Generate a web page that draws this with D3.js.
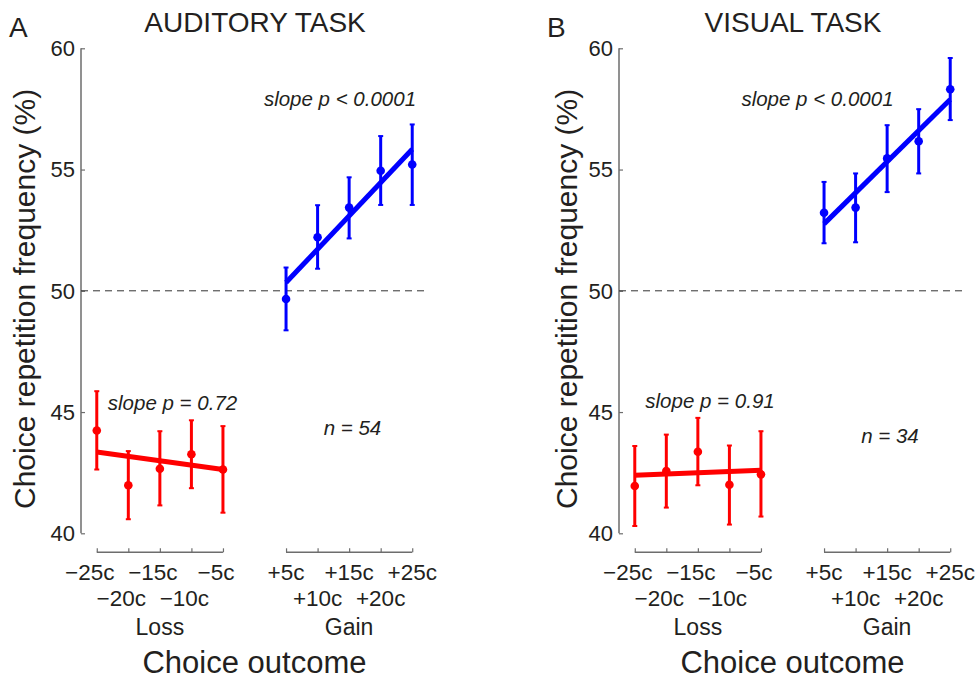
<!DOCTYPE html>
<html>
<head>
<meta charset="utf-8">
<title>Choice repetition</title>
<script src="https://d3js.org/d3.v7.min.js"></script>
<style>
  body { margin: 0; background: #fff; }
  text { font-family: "Liberation Sans", Arial, sans-serif; fill: #231f20; }
</style>
</head>
<body>
<svg width="979" height="679"></svg>
<script>
// tick labels
var lossLabels = ["\u221225c", "\u221220c", "\u221215c", "\u221210c", "\u22125c"];
var gainLabels = ["+5c", "+10c", "+15c", "+20c", "+25c"];
var yTicks = [40, 45, 50, 55, 60];

// auditory task (%)
var audLossMean = [44.24, 41.98, 42.66, 43.26, 42.63];
var audLossLo   = [42.63, 40.58, 41.15, 41.86, 40.85];
var audLossHi   = [45.86, 43.39, 44.21, 44.66, 44.42];
var audLossFit  = [43.35, 42.63];
var audGainMean = [49.66, 52.21, 53.43, 54.95, 55.21];
var audGainLo   = [48.37, 50.91, 52.16, 53.54, 53.54];
var audGainHi   = [50.96, 53.53, 54.68, 56.38, 56.86];
var audGainFit  = [50.34, 55.84];

// visual task (%)
var visLossMean = [41.95, 42.57, 43.36, 42.00, 42.43];
var visLossLo   = [40.30, 41.06, 41.98, 40.36, 40.69];
var visLossHi   = [43.60, 44.07, 44.76, 43.62, 44.21];
var visLossFit  = [42.39, 42.60];
var visGainMean = [53.22, 53.43, 55.46, 56.17, 58.31];
var visGainLo   = [51.96, 52.00, 54.07, 54.84, 57.04];
var visGainHi   = [54.49, 54.84, 56.83, 57.49, 59.60];
var visGainFit  = [52.76, 57.89];

var svg = d3.select("svg");
var axisColor = "#6d6d6d";
var red = "#ff0000", blue = "#0000ff";

var y = d3.scaleLinear().domain([40, 60]).range([533.3, 48.3]);

function panel(o) {
    var x = d3.scaleLinear().domain([-0.5, 10.5]).range([o.left, o.left + 347]);
    var g = svg.append("g");

    // panel letter and title
    g.append("text").attr("x", o.left - 72).attr("y", 37)
        .style("font-size", "28px").text(o.letter);
    g.append("text").attr("x", o.left + 174).attr("y", 32)
        .attr("text-anchor", "middle").style("font-size", "28px").text(o.title);

    // y axis
    var ya = g.append("g").attr("transform", "translate(" + o.left + ",0)")
        .call(d3.axisRight(y).tickValues(yTicks).tickSize(4).tickFormat(""));
    ya.select(".domain").remove();
    ya.selectAll("line").attr("stroke", axisColor).attr("stroke-width", 1.2);
    g.append("line").attr("x1", o.left).attr("x2", o.left)
        .attr("y1", y(40)).attr("y2", y(60))
        .attr("stroke", axisColor).attr("stroke-width", 1.5);
    g.selectAll(".ylab").data(yTicks).enter().append("text")
        .attr("x", o.left - 6).attr("y", function(d) { return y(d); })
        .attr("dy", "0.36em").attr("text-anchor", "end")
        .style("font-size", "22px").text(function(d) { return d; });
    g.append("text")
        .attr("transform", "translate(" + o.ylabX + ",509) rotate(-90)")
        .style("font-size", "30px").text("Choice repetition frequency (%)");

    // dashed chance line
    g.append("line").attr("x1", o.left).attr("x2", x(10.5))
        .attr("y1", y(50)).attr("y2", y(50))
        .attr("stroke", "#333").attr("stroke-width", 1).attr("stroke-dasharray", "7,5");

    // x axes (loss 0-4, gain 6-10)
    var xAxisY = 552.3;
    [[0, lossLabels, "Loss", -7], [6, gainLabels, "Gain", 0]].forEach(function(grp) {
        var idx = d3.range(grp[0], grp[0] + 5);
        var xa = g.append("g").attr("transform", "translate(0," + xAxisY + ")")
            .call(d3.axisTop(x).tickValues(idx).tickSize(4).tickSizeOuter(0).tickFormat(""));
        xa.select(".domain").attr("d", "M" + x(idx[0]) + ",0H" + x(idx[4]))
            .attr("stroke", axisColor).attr("stroke-width", 1.5);
        xa.selectAll("line").attr("stroke", axisColor).attr("stroke-width", 1.2);
        idx.forEach(function(i, k) {
            g.append("text").attr("x", x(i) + grp[3])
                .attr("y", k % 2 === 0 ? 580 : 606)
                .attr("text-anchor", "middle").style("font-size", "22.5px")
                .text(grp[1][k]);
        });
        g.append("text").attr("x", x(grp[0] + 2)).attr("y", 635)
            .attr("text-anchor", "middle").style("font-size", "23px").text(grp[2]);
    });
    g.append("text").attr("x", x(5)).attr("y", 673)
        .attr("text-anchor", "middle").style("font-size", "31px").text("Choice outcome");

    // series
    o.series.forEach(function(s) {
        var idx = d3.range(s.start, s.start + 5);
        g.selectAll(null).data(idx).enter().append("line")
            .attr("x1", function(i) { return x(i); }).attr("x2", function(i) { return x(i); })
            .attr("y1", function(i, k) { return y(s.lo[k]); })
            .attr("y2", function(i, k) { return y(s.hi[k]); })
            .attr("stroke", s.color).attr("stroke-width", 3);
        [s.lo, s.hi].forEach(function(arr) {
            g.selectAll(null).data(idx).enter().append("line")
                .attr("x1", function(i) { return x(i) - 2.5; })
                .attr("x2", function(i) { return x(i) + 2.5; })
                .attr("y1", function(i, k) { return y(arr[k]); })
                .attr("y2", function(i, k) { return y(arr[k]); })
                .attr("stroke", s.color).attr("stroke-width", 2);
        });
        g.append("line")
            .attr("x1", x(idx[0])).attr("x2", x(idx[4]))
            .attr("y1", y(s.fit[0])).attr("y2", y(s.fit[1]))
            .attr("stroke", s.color).attr("stroke-width", 5);
        g.selectAll(null).data(idx).enter().append("circle")
            .attr("cx", function(i) { return x(i); })
            .attr("cy", function(i, k) { return y(s.mean[k]); })
            .attr("r", 4.3).attr("fill", s.color);
    });

    // annotations
    o.notes.forEach(function(n) {
        g.append("text").attr("x", n[0]).attr("y", n[1])
            .attr("text-anchor", "middle").style("font-size", "20.5px")
            .style("font-style", "italic").text(n[2]);
    });
}

panel({
    left: 81, letter: "A", title: "AUDITORY TASK", ylabX: 35,
    series: [
        { start: 0, color: red, mean: audLossMean, lo: audLossLo, hi: audLossHi, fit: audLossFit },
        { start: 6, color: blue, mean: audGainMean, lo: audGainLo, hi: audGainHi, fit: audGainFit }
    ],
    notes: [[340, 106, "slope p < 0.0001"], [172.5, 410, "slope p = 0.72"], [352.5, 435, "n = 54"]]
});

panel({
    left: 619, letter: "B", title: "VISUAL TASK", ylabX: 577,
    series: [
        { start: 0, color: red, mean: visLossMean, lo: visLossLo, hi: visLossHi, fit: visLossFit },
        { start: 6, color: blue, mean: visGainMean, lo: visGainLo, hi: visGainHi, fit: visGainFit }
    ],
    notes: [[817.5, 106, "slope p < 0.0001"], [710, 408, "slope p = 0.91"], [890, 443, "n = 34"]]
});
</script>
</body>
</html>
